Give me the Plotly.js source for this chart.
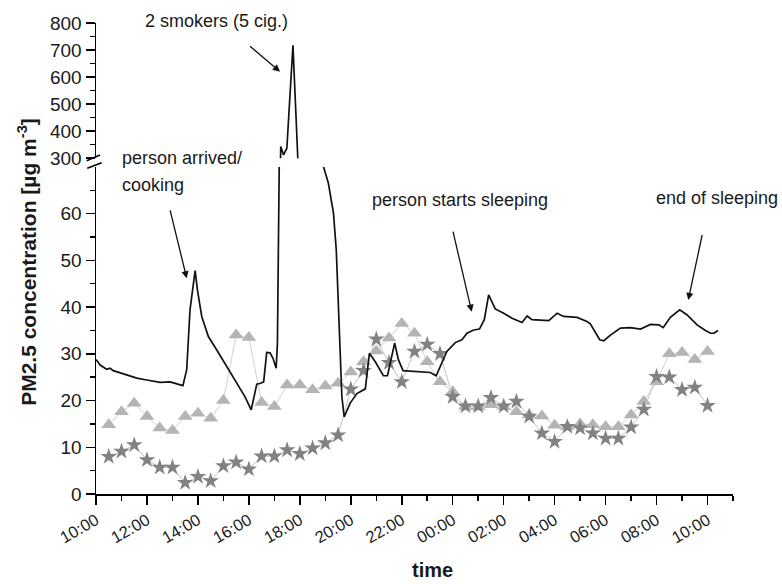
<!DOCTYPE html>
<html>
<head>
<meta charset="utf-8">
<script src="https://cdn.plot.ly/plotly-3.0.1.min.js"></script>
<style>
  html, body { margin: 0; padding: 0; background: #fff; }
  #chart { width: 782px; height: 584px; }
</style>
</head>
<body>
<div id="chart"></div>
<script>
// Time axis: hours counted from midnight of the first day (24 = 00:00 next day)
const tickHours  = [10, 12, 14, 16, 18, 20, 22, 24, 26, 28, 30, 32, 34];
const tickLabels = ['10:00', '12:00', '14:00', '16:00', '18:00', '20:00', '22:00',
                    '00:00', '02:00', '04:00', '06:00', '08:00', '10:00'];
const minorHours = [11, 13, 15, 17, 19, 21, 23, 25, 27, 29, 31, 33, 35];

// Continuous PM2.5 record (black line)
const lineHours = [
  10.00, 10.16, 10.42, 10.55, 10.68, 11.21, 11.60, 11.99, 12.51, 12.91,
  13.30, 13.41, 13.56, 13.69, 13.89, 13.98, 14.15, 14.41, 14.74, 15.13,
  15.53, 15.85, 16.09, 16.31, 16.46, 16.58, 16.70, 16.83, 16.95, 17.07,
  17.12, 17.20, 17.25, 17.36, 17.49, 17.73, 17.92, 18.13, 18.48, 18.80,
  18.93, 19.12, 19.32, 19.43, 19.52, 19.65, 19.74, 19.98, 20.24, 20.57,
  20.73, 20.96, 21.28, 21.44, 21.72, 21.87, 22.05, 22.60, 23.12, 23.35,
  23.51, 23.77, 24.10, 24.36, 24.56, 24.82, 25.05, 25.24, 25.41, 25.67,
  26.00, 26.33, 26.72, 26.92, 27.11, 27.77, 28.10, 28.35, 28.88, 29.27,
  29.40, 29.60, 29.77, 29.93, 30.19, 30.58, 30.97, 31.37, 31.76, 32.09,
  32.26, 32.54, 32.91, 33.20, 33.59, 33.92, 34.12, 34.25, 34.41
];
const lineValues = [
  28.8, 27.6, 26.7, 26.9, 26.4, 25.5, 24.8, 24.4, 23.9, 24.0,
  23.3, 23.2, 26.6, 39.4, 47.8, 43.7, 38.0, 33.7, 30.8, 27.3,
  23.7, 20.8, 18.0, 23.5, 23.7, 24.0, 30.3, 30.2, 29.0, 26.9,
  32.2, 75, 343, 312, 337, 718, 300, 200, 120, 80,
  70, 66.5, 60.1, 52.2, 37.9, 20.8, 16.5, 19.5, 21.5, 22.5,
  30.1, 28.3, 25.3, 25.3, 32.3, 28.7, 26.4, 26.2, 26.0, 25.3,
  27.3, 30.5, 32.4, 33.0, 34.4, 35.1, 35.3, 37.3, 42.6, 39.6,
  38.7, 37.6, 36.7, 38.1, 37.3, 37.1, 38.7, 38.0, 37.8, 36.9,
  36.4, 34.4, 33.0, 32.8, 34.0, 35.5, 35.6, 35.3, 36.3, 36.2,
  35.6, 37.8, 39.4, 38.3, 36.2, 35.0, 34.4, 34.4, 35.0
];

// Half-hourly samples (triangles and stars)
const sampleHours = [
  10.5, 11.0, 11.5, 12.0, 12.5, 13.0, 13.5, 14.0, 14.5, 15.0,
  15.5, 16.0, 16.5, 17.0, 17.5, 18.0, 18.5, 19.0, 19.5, 20.0,
  20.5, 21.0, 21.5, 22.0, 22.5, 23.0, 23.5, 24.0, 24.5, 25.0,
  25.5, 26.0, 26.5, 27.0, 27.5, 28.0, 28.5, 29.0, 29.5, 30.0,
  30.5, 31.0, 31.5, 32.0, 32.5, 33.0, 33.5, 34.0
];
const triangleValues = [
  14.8, 17.6, 19.4, 16.6, 14.1, 13.6, 16.6, 17.3, 16.2, 20.0,
  34.0, 33.5, 19.6, 18.7, 23.3, 23.3, 22.3, 23.1, 23.7, 26.1,
  28.3, 30.6, 33.4, 36.5, 34.4, 28.3, 24.0, 21.9, 18.7, 18.6,
  19.1, 18.7, 17.6, 16.9, 16.7, 14.7, 14.4, 15.0, 14.8, 14.4,
  14.4, 16.9, 19.8, 24.0, 30.0, 30.3, 28.8, 30.5
];
const starValues = [
  8.0, 9.1, 10.5, 7.3, 5.7, 5.7, 2.4, 3.7, 2.8, 6.0,
  6.8, 5.3, 8.1, 8.1, 9.4, 8.6, 9.8, 10.9, 12.6, 22.4,
  26.4, 33.1, 28.1, 24.0, 30.5, 32.0, 30.0, 20.8, 18.8, 18.8,
  20.6, 18.8, 19.8, 16.6, 13.0, 11.2, 14.4, 14.1, 13.0, 11.9,
  11.9, 14.3, 18.1, 25.1, 25.0, 22.3, 22.8, 18.9
];

// Broken y axis: lower and upper value bands
const lowerTicks = [0, 10, 20, 30, 40, 50, 60];
const lowerMinor = [5, 15, 25, 35, 45, 55, 65];
const upperTicks = [300, 400, 500, 600, 700, 800];
const upperMinor = [350, 450, 550, 650, 750];

const FONT = '"Liberation Sans", Arial, Helvetica, sans-serif';
const INK = '#1a1a1a';

const traces = [
  {
    x: sampleHours, y: triangleValues, xaxis: 'x', yaxis: 'y',
    mode: 'lines+markers', cliponaxis: false,
    line: { color: '#d2d2d2', width: 1 },
    marker: { symbol: 'triangle-up', size: 13, color: '#b4b4b4' }
  },
  {
    x: sampleHours, y: starValues, xaxis: 'x', yaxis: 'y',
    mode: 'lines+markers', cliponaxis: false,
    line: { color: '#c4c4c4', width: 1 },
    marker: { symbol: 'star', size: 12.5, color: '#828282' }
  },
  {
    x: lineHours, y: lineValues, xaxis: 'x', yaxis: 'y',
    mode: 'lines', line: { color: '#111', width: 1.7 }
  },
  {
    x: lineHours, y: lineValues, xaxis: 'x', yaxis: 'y2',
    mode: 'lines', line: { color: '#111', width: 1.7 }
  }
];

const axisCommon = {
  showline: true, linecolor: '#000', linewidth: 1.5,
  ticks: 'outside', ticklen: 9, tickwidth: 1.5, tickcolor: '#000',
  showgrid: false, zeroline: false,
  tickfont: { family: FONT, size: 19, color: INK }
};

function arrow(xPaper, yPaper, ax, ay) {
  return {
    xref: 'paper', yref: 'paper', x: xPaper, y: yPaper, ax: ax, ay: ay,
    text: ' ', showarrow: true, arrowhead: 2, arrowsize: 1.1, arrowwidth: 1.3,
    arrowcolor: '#111', standoff: 0
  };
}
function label(text, xPaper, yPaper) {
  return {
    xref: 'paper', yref: 'paper', x: xPaper, y: yPaper,
    xanchor: 'left', yanchor: 'middle', showarrow: false, text: text,
    font: { family: FONT, size: 18, color: INK }
  };
}

const layout = {
  width: 782, height: 584,
  margin: { l: 96, r: 49, t: 23, b: 90 },
  paper_bgcolor: '#fff', plot_bgcolor: '#fff',
  showlegend: false, hovermode: false,
  xaxis: Object.assign({}, axisCommon, {
    anchor: 'y', range: [10, 35],
    tickmode: 'array', tickvals: tickHours, ticktext: tickLabels,
    tickangle: -30, tickfont: { family: FONT, size: 16.5, color: INK },
    minor: { tickmode: 'array', tickvals: minorHours, ticks: 'outside',
             ticklen: 5, tickwidth: 1.5, tickcolor: '#000', showgrid: false }
  }),
  yaxis: Object.assign({}, axisCommon, {
    domain: [0, 0.6945], range: [0, 70], anchor: 'x',
    tickmode: 'array', tickvals: lowerTicks,
    minor: { tickmode: 'array', tickvals: lowerMinor, ticks: 'outside',
             ticklen: 5, tickwidth: 1.5, tickcolor: '#000', showgrid: false }
  }),
  yaxis2: Object.assign({}, axisCommon, {
    domain: [0.7129, 1], range: [300, 800], anchor: 'x',
    tickmode: 'array', tickvals: upperTicks,
    minor: { tickmode: 'array', tickvals: upperMinor, ticks: 'outside',
             ticklen: 5, tickwidth: 1.5, tickcolor: '#000', showgrid: false }
  }),
  shapes: [
    // axis break marks
    { type: 'line', xref: 'paper', yref: 'paper', x0: -0.0146, y0: 0.7076, x1: 0.0063, y1: 0.7197,
      line: { color: '#000', width: 1.5 } },
    { type: 'line', xref: 'paper', yref: 'paper', x0: -0.0137, y0: 0.6915, x1: 0.0089, y1: 0.7034,
      line: { color: '#000', width: 1.5 } }
  ],
  annotations: [
    {
      xref: 'paper', yref: 'paper', x: -0.1085, y: 0.4926, textangle: -90,
      showarrow: false, xanchor: 'center', yanchor: 'middle',
      text: 'PM2.5 concentration [µg m<sup>-3</sup>]',
      font: { family: FONT, size: 21, color: INK, weight: 'bold' }
    },
    {
      xref: 'paper', yref: 'paper', x: 0.5275, y: -0.161,
      showarrow: false, xanchor: 'center', yanchor: 'middle',
      text: 'time', font: { family: FONT, size: 20, color: INK, weight: 'bold' }
    },
    label('2 smokers (5 cig.)', 0.0738, 1.0049),
    label('person arrived/', 0.0377, 0.7127),
    label('cooking', 0.0377, 0.6571),
    label('person starts sleeping', 0.4301, 0.6242),
    label('end of sleeping', 0.876, 0.6278),
    arrow(0.2889, 0.8966, -33, -28),
    arrow(0.1424, 0.4580, -19, -78),
    arrow(0.5898, 0.3870, -21, -90),
    arrow(0.9298, 0.4119, 16, -75)
  ]
};

Plotly.newPlot('chart', traces, layout, { displayModeBar: false, staticPlot: true });
</script>
</body>
</html>
